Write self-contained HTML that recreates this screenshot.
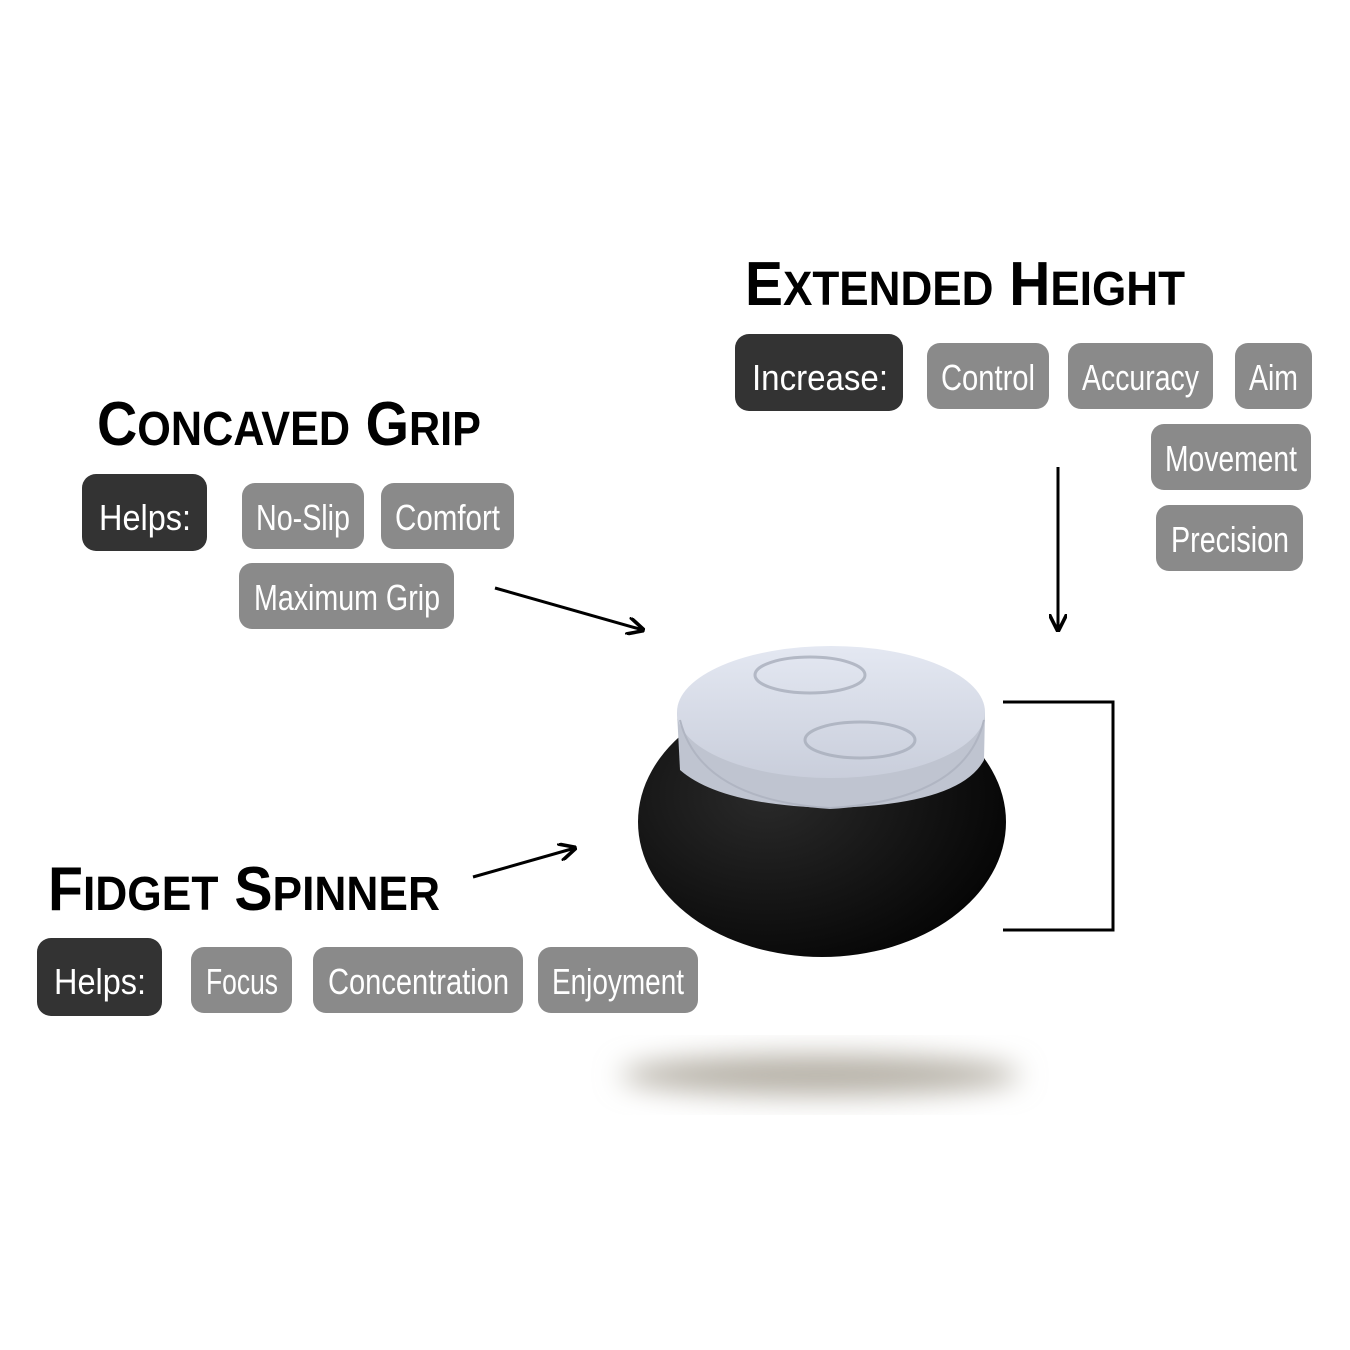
<!DOCTYPE html>
<html><head><meta charset="utf-8"><style>
html,body{margin:0;padding:0;background:#fff;}
svg{display:block}
text{font-family:"Liberation Sans Narrow","Liberation Sans",sans-serif;}
.h{font-weight:bold;fill:#000;}
.p{fill:#fff;font-size:36px;}
</style></head><body>
<svg width="1350" height="1350" viewBox="0 0 1350 1350" xmlns="http://www.w3.org/2000/svg">
<defs>
<filter id="blur" x="-50%" y="-50%" width="200%" height="200%"><feGaussianBlur stdDeviation="14"/></filter>
<radialGradient id="body" cx="0.35" cy="0.4" r="0.7"><stop offset="0" stop-color="#2a2a2a"/><stop offset="1" stop-color="#050505"/></radialGradient>
<linearGradient id="cap" x1="0" y1="0" x2="0" y2="1"><stop offset="0" stop-color="#e4e8f2"/><stop offset="1" stop-color="#c9cedb"/></linearGradient>
<marker id="ah" viewBox="0 0 10 10" refX="9" refY="5" markerWidth="6" markerHeight="6" orient="auto"><path d="M0,0 L10,5 L0,10" fill="none" stroke="#000" stroke-width="2"/></marker>
</defs>

<!-- headings -->
<text class="h" x="745" y="305" font-size="62" textLength="440" lengthAdjust="spacingAndGlyphs">E<tspan font-size="48">XTENDED</tspan> H<tspan font-size="48">EIGHT</tspan></text>
<text class="h" x="97" y="445" font-size="62" textLength="384" lengthAdjust="spacingAndGlyphs">C<tspan font-size="48">ONCAVED</tspan> G<tspan font-size="48">RIP</tspan></text>
<text class="h" x="48" y="910" font-size="62" textLength="392" lengthAdjust="spacingAndGlyphs">F<tspan font-size="48">IDGET</tspan> S<tspan font-size="48">PINNER</tspan></text>

<!-- pills -->
<g>
<rect x="735" y="334" width="168" height="77" rx="14" fill="#333"/>
<text class="p" x="752" y="390" font-size="42" textLength="136" lengthAdjust="spacingAndGlyphs">Increase:</text>
<rect x="927" y="343" width="122" height="66" rx="13" fill="#8a8a8a"/>
<text class="p" x="941" y="390" textLength="94" lengthAdjust="spacingAndGlyphs">Control</text>
<rect x="1068" y="343" width="145" height="66" rx="13" fill="#8a8a8a"/>
<text class="p" x="1082" y="390" textLength="117" lengthAdjust="spacingAndGlyphs">Accuracy</text>
<rect x="1235" y="343" width="77" height="66" rx="13" fill="#8a8a8a"/>
<text class="p" x="1249" y="390" textLength="49" lengthAdjust="spacingAndGlyphs">Aim</text>
<rect x="1151" y="424" width="160" height="66" rx="13" fill="#8a8a8a"/>
<text class="p" x="1165" y="471" textLength="132" lengthAdjust="spacingAndGlyphs">Movement</text>
<rect x="1156" y="505" width="147" height="66" rx="13" fill="#8a8a8a"/>
<text class="p" x="1171" y="552" textLength="118" lengthAdjust="spacingAndGlyphs">Precision</text>

<rect x="82" y="474" width="125" height="77" rx="14" fill="#333"/>
<text class="p" x="99" y="530" font-size="42" textLength="92" lengthAdjust="spacingAndGlyphs">Helps:</text>
<rect x="242" y="483" width="122" height="66" rx="13" fill="#8a8a8a"/>
<text class="p" x="256" y="530" textLength="94" lengthAdjust="spacingAndGlyphs">No-Slip</text>
<rect x="381" y="483" width="133" height="66" rx="13" fill="#8a8a8a"/>
<text class="p" x="395" y="530" textLength="105" lengthAdjust="spacingAndGlyphs">Comfort</text>
<rect x="239" y="563" width="215" height="66" rx="13" fill="#8a8a8a"/>
<text class="p" x="254" y="610" textLength="186" lengthAdjust="spacingAndGlyphs">Maximum Grip</text>

<rect x="37" y="938" width="125" height="78" rx="14" fill="#333"/>
<text class="p" x="54" y="994" font-size="42" textLength="92" lengthAdjust="spacingAndGlyphs">Helps:</text>
<rect x="191" y="947" width="101" height="66" rx="13" fill="#8a8a8a"/>
<text class="p" x="206" y="994" textLength="72" lengthAdjust="spacingAndGlyphs">Focus</text>
<rect x="313" y="947" width="210" height="66" rx="13" fill="#8a8a8a"/>
<text class="p" x="328" y="994" textLength="181" lengthAdjust="spacingAndGlyphs">Concentration</text>
<rect x="538" y="947" width="160" height="66" rx="13" fill="#8a8a8a"/>
<text class="p" x="552" y="994" textLength="132" lengthAdjust="spacingAndGlyphs">Enjoyment</text>
</g>

<!-- arrows -->
<g stroke="#000" stroke-width="3" fill="none">
<line x1="495" y1="588" x2="643" y2="630" marker-end="url(#ah)"/>
<line x1="473" y1="877" x2="575" y2="848" marker-end="url(#ah)"/>
<line x1="1058" y1="467" x2="1058" y2="630" marker-end="url(#ah)"/>
<polyline points="1003,702 1113,702 1113,930 1003,930" stroke-width="3"/>
</g>

<!-- shadow -->
<ellipse cx="820" cy="1075" rx="200" ry="20" fill="#b5b0a6" filter="url(#blur)"/>

<!-- product -->
<ellipse cx="822" cy="822" rx="184" ry="135" fill="url(#body)"/>
<path d="M677,712 L680,770 Q720,805 830,808 Q960,805 984,760 L985,712 Z" fill="#bfc4d0"/>
<ellipse cx="831" cy="712" rx="154" ry="66" fill="url(#cap)"/>
<path d="M680,720 Q700,800 830,808 Q965,800 984,720" fill="none" stroke="#b0b5c2" stroke-width="2"/>
<g fill="none" stroke="#a8aebb" stroke-width="3" opacity="0.8">
<ellipse cx="810" cy="675" rx="55" ry="18"/>
<ellipse cx="860" cy="740" rx="55" ry="18"/>
</g>
</svg>
</body></html>
